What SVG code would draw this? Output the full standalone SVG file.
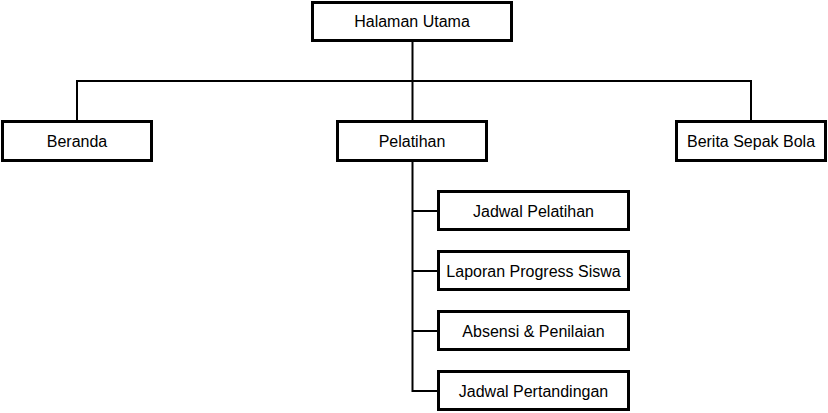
<svg xmlns="http://www.w3.org/2000/svg" width="828" height="413" viewBox="0 0 828 413">
<style>
.box{fill:#fff;stroke:#000;stroke-width:3}
.lbl{font-family:"Liberation Sans",Arial,sans-serif;font-size:16px;fill:#000;text-anchor:middle}
.con{fill:none;stroke:#000;stroke-width:2}
</style>
<rect width="828" height="413" fill="#fff"/>
<g id="connectors">
<path class="con" d="M412.5 42V81M77 81H751M77 80V121M412.5 80V121M751 80V121"/>
<path class="con" d="M412.5 162V391M411.5 211H438M411.5 271H438M411.5 331H438M411.5 391H438"/>
</g>
<g id="halaman-utama"><rect class="box" x="312.5" y="2.5" width="199" height="38"/><text class="lbl" x="412" y="27">Halaman Utama</text></g>
<g id="beranda"><rect class="box" x="2.5" y="121.5" width="149" height="39"/><text class="lbl" x="77" y="146.5">Beranda</text></g>
<g id="pelatihan"><rect class="box" x="337.5" y="121.5" width="149" height="39"/><text class="lbl" x="412" y="146.5">Pelatihan</text></g>
<g id="berita"><rect class="box" x="676.5" y="121.5" width="149" height="39"/><text class="lbl" x="751" y="146.5">Berita Sepak Bola</text></g>
<g id="jadwal-pelatihan"><rect class="box" x="438.5" y="191.5" width="190" height="38"/><text class="lbl" x="533.5" y="216.5">Jadwal Pelatihan</text></g>
<g id="laporan"><rect class="box" x="438.5" y="251.5" width="190" height="38"/><text class="lbl" x="533.5" y="276.5">Laporan Progress Siswa</text></g>
<g id="absensi"><rect class="box" x="438.5" y="311.5" width="190" height="38"/><text class="lbl" x="533.5" y="336.5">Absensi &amp; Penilaian</text></g>
<g id="jadwal-pertandingan"><rect class="box" x="438.5" y="371.5" width="190" height="38"/><text class="lbl" x="533.5" y="396.5">Jadwal Pertandingan</text></g>
</svg>
